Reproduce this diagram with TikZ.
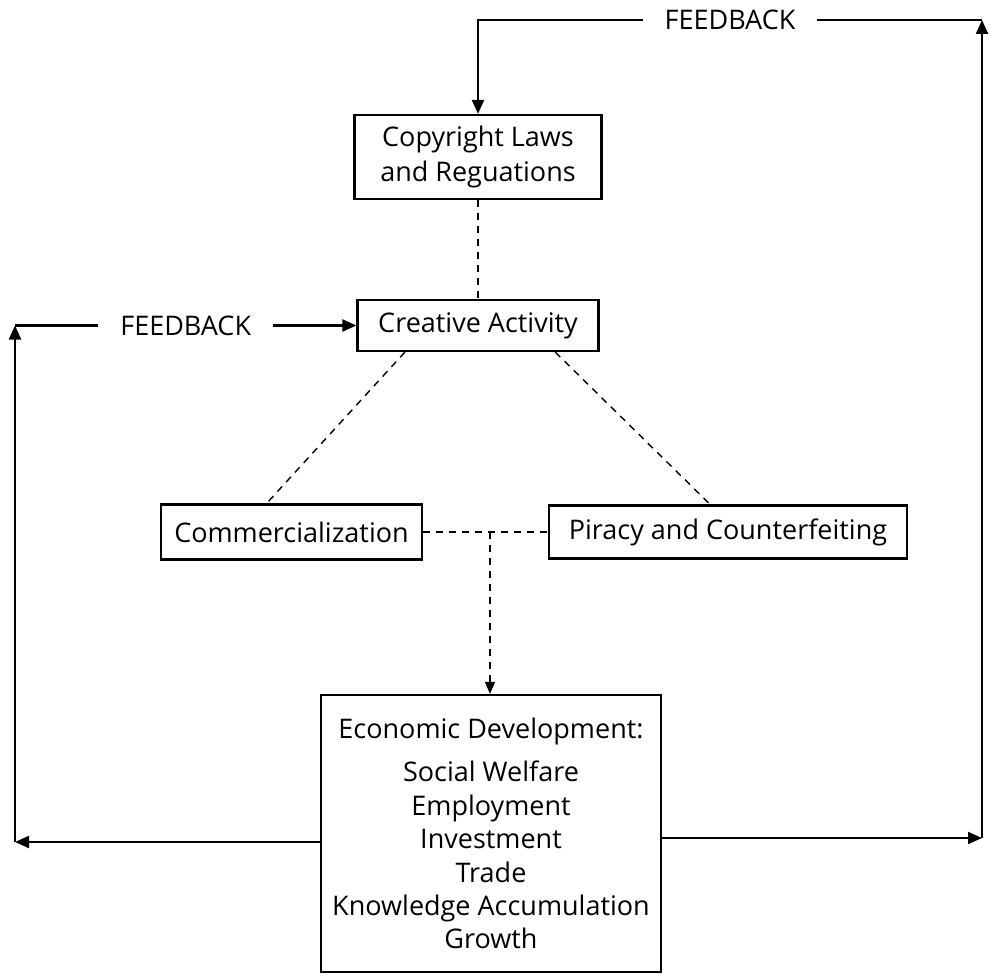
\documentclass[tikz,border=0pt]{standalone}
\usepackage{fontspec}
\setmainfont{Open Sans}
\usetikzlibrary{arrows.meta}
\begin{document}
\begin{tikzpicture}[x=0.5pt,y=-0.5pt,
  box/.style={draw, line width=1.1pt, align=center, inner sep=0pt, font=\fontsize{13.5}{16.7}\selectfont},
  fbline/.style={line width=1.1pt, -{Triangle[length=7pt,width=6pt]}},
  dashline/.style={dash pattern=on 3.5pt off 3pt, line width=0.7pt},
  fblabel/.style={fill=white, inner xsep=11pt, font=\fontsize{13.5}{16.7}\selectfont}]
\useasboundingbox (0,0) rectangle (995,974);
\node[box, minimum width=123.5pt, minimum height=42pt, font=\fontsize{13.5}{17.5}\selectfont] (law) at (478,157) {Copyright Laws\\and Reguations};
\node[box, minimum width=120.5pt, minimum height=25.5pt] (creative) at (478,325.5) {Creative Activity};
\node[box, minimum width=130.5pt, minimum height=27.5pt] (comm) at (291.5,532) {Commercialization};
\node[box, minimum width=179pt, minimum height=26.5pt] (piracy) at (728,532) {Piracy and Counterfeiting};
\node[box, minimum width=170pt, minimum height=138.5pt] (econ) at (491,833.5) {Economic Development:\\[5pt]
  Social Welfare\\Employment\\Investment\\Trade\\Knowledge Accumulation\\Growth};
\coordinate (rt) at (982,20);
\coordinate (rb) at (982,838);
\coordinate (lt) at (15,325.5);
\coordinate (lb) at (15,842);
\coordinate (jn) at (490,532);
% feedback loops
\draw[fbline] (econ.east |- rb) -- (rb);
\draw[fbline] (rb) -- (rt);
\draw[fbline] (rt) -- node[fblabel] {FEEDBACK} (rt -| law) -- (law.north);
\draw[fbline] (econ.west |- lb) -- (lb);
\draw[fbline] (lb) -- (lt);
\draw[fbline] (lt) -- node[fblabel] {FEEDBACK} (creative.west);
% dashed links
\draw[dashline] (law) -- (creative);
\draw[dashline] (creative.200) -- (comm.131);
\draw[dashline] (creative.-19.5) -- (piracy.123.7);
\draw[dashline] (comm) -- (piracy);
\draw[dashline, -{Triangle[length=6pt,width=5pt]}] (jn) -- (jn |- econ.north);
\end{tikzpicture}
\end{document}
